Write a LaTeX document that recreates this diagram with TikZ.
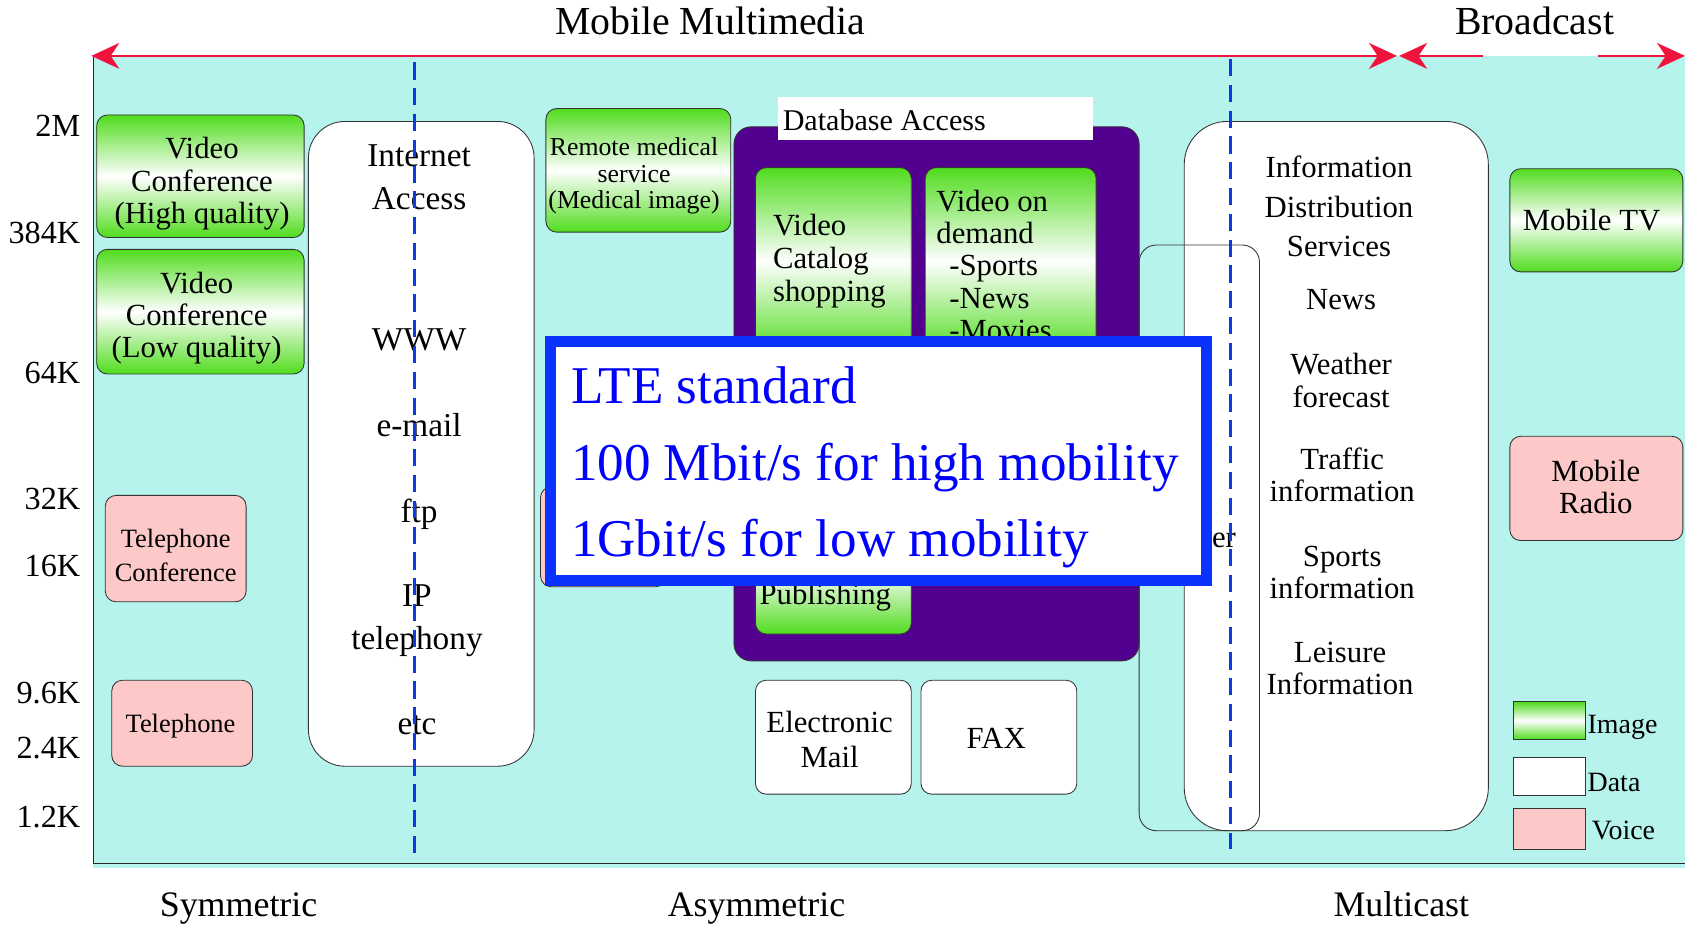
\documentclass[tikz,border=0pt]{standalone}
\usepackage{fontspec}
\setmainfont{Liberation Serif}
\usetikzlibrary{shapes,arrows,arrows.meta,positioning,calc}
\definecolor{bgcyan}{RGB}{182,243,237}
\definecolor{imggreen}{RGB}{80,220,30}
\definecolor{voicepink}{RGB}{252,200,200}
\definecolor{dbpurple}{RGB}{82,0,144}
\definecolor{ltblue}{RGB}{10,50,255}
\definecolor{dashblue}{RGB}{10,60,230}
\definecolor{arrowred}{RGB}{240,20,60}
\tikzset{
imgblock/.style = {draw=black!80, thin, rounded corners=5pt, top color=imggreen, bottom color=imggreen, middle color=white},
datablock/.style = {draw=black!80, thin, fill=white, rounded corners=5pt},
voiceblock/.style = {draw=black!80, thin, fill=voicepink, rounded corners=5pt},
swatch/.style = {draw=black!80, thin, minimum width=33.5pt, minimum height=17.5pt},
boxtext/.style = {align=center, inner sep=0pt, font=\fontsize{14.3}{15}\selectfont},
smalltext/.style = {align=center, inner sep=0pt, font=\fontsize{12.3}{15.5}\selectfont},
nettext/.style = {align=center, inner sep=0pt, font=\fontsize{15.5}{20}\selectfont},
ratelabel/.style = {anchor=east, inner sep=0pt, font=\fontsize{15}{15}\selectfont},
axislabel/.style = {anchor=base, inner sep=0pt, font=\fontsize{16.7}{17}\selectfont},
toplabel/.style = {anchor=base, inner sep=0pt, font=\fontsize{18.5}{19}\selectfont},
redarrow/.style = {draw=arrowred, line width=1.2pt},
dashline/.style = {draw=dashblue, line width=1.5pt, dash pattern=on 8pt off 4pt}
}

\begin{document}
\begin{tikzpicture}[x=0.5pt, y=-0.5pt, >={Stealth[length=13pt,width=12pt,inset=4pt]}]
    \useasboundingbox (0,0) rectangle (1568,864);

    % background
    \fill[bgcyan] (87,52) rectangle (1568,808);
    \draw[black!85, thin] (87,52) -- (87,803) -- (1568,803);

    \node[toplabel] (mm) at (661,32) {Mobile Multimedia};
    \node[toplabel] (bc) at (1428,32) {Broadcast};
    \coordinate (mmL) at (85,52);
    \coordinate (mmR) at (1300,52);
    \coordinate (bcL) at (1302,52);
    \coordinate (bcM) at (1380,52);
    \coordinate (bcN) at (1487,52);
    \coordinate (bcR) at (1568,52);
    \draw[redarrow, <->] (mmL) -- (mmR);
    \draw[redarrow, <-] (bcL) -- (bcM);
    \draw[redarrow, ->] (bcN) -- (bcR);

    \foreach \lbl/\yy [count=\i] in {2M/117, 384K/217, 64K/347, 32K/464, 16K/527, 9.6K/645, 2.4K/696, 1.2K/760}
        \node[ratelabel] (rate\i) at (75,\yy) {\lbl};

    \node[axislabel] (sym) at (222,853) {Symmetric};
    \node[axislabel] (asym) at (704,853) {Asymmetric};
    \node[axislabel] (mcast) at (1304,853) {Multicast};

    % symmetric
    \node[imgblock, minimum width=96.5pt, minimum height=57pt] (vchigh) at (186.5,164) {};
    \node[boxtext] at (188,171) {Video\\Conference\\(High quality)};
    \node[imgblock, minimum width=96.5pt, minimum height=58pt] (vclow) at (186.5,290) {};
    \node[boxtext] at (183,296) {Video\\Conference\\(Low quality)};
    \node[voiceblock, minimum width=65.5pt, minimum height=49.5pt] (telconf) at (163.5,510.5) {};
    \node[smalltext] at (163.5,517) {Telephone\\Conference};
    \node[voiceblock, minimum width=65.5pt, minimum height=40pt] (tel) at (169.5,673) {};
    \node[smalltext] at (168,676) {Telephone};

    \node[datablock, rounded corners=17pt, minimum width=105pt, minimum height=300pt] (net) at (392,413) {};
    \node[nettext] (netAccess) at (390,165) {Internet\\Access};
    \node[nettext] (netWWW) at (390,316) {WWW};
    \node[nettext] (netMail) at (390,396) {e-mail};
    \node[nettext] (netFtp) at (390,479) {ftp};
    \node[nettext] (netIP) at (388,578) {IP\\telephony};
    \node[nettext] (netEtc) at (388,675) {etc};

    % asymmetric
    \node[imgblock, minimum width=86pt, minimum height=57.5pt] (medical) at (594,158.5) {};
    \node[smalltext, font=\fontsize{12}{12.3}\selectfont] at (590,164) {Remote medical\\service\\(Medical image)};

    \node[fill=dbpurple, draw=black!80, thin, rounded corners=8pt, minimum width=188.5pt, minimum height=248.5pt] (db) at (871.5,366.5) {};
    \node[fill=white, minimum width=146.5pt, minimum height=20pt] (dbLabel) at (870.5,110) {};
    \node[boxtext, anchor=west, font=\fontsize{14}{14}\selectfont] at (728,112) {Database Access};
    \node[imgblock, minimum width=72.5pt, minimum height=87pt] (catalog) at (775.5,243) {};
    \node[boxtext, align=left, anchor=west, font=\fontsize{14.3}{15.5}\selectfont] at (719,243) {Video\\Catalog\\shopping};
    \node[imgblock, minimum width=79.5pt, minimum height=87pt] (vod) at (940.5,243) {};
    \node[boxtext, align=left, anchor=west] at (871,247) {Video on\\demand\\\hspace*{6pt}-Sports\\\hspace*{6pt}-News\\\hspace*{6pt}-Movies};
    \node[imgblock, minimum width=72.5pt, minimum height=60pt] (publish) at (775.5,530) {};
    \node[boxtext] at (768,556) {Publishing};
    \node[voiceblock, minimum width=58.5pt, minimum height=46.5pt] (asymvoice) at (561.5,499.5) {};

    \node[datablock, minimum width=72.5pt, minimum height=53pt] (email) at (775.5,686) {};
    \node[boxtext, font=\fontsize{14.3}{16}\selectfont] at (772,688) {Electronic\\Mail};
    \node[datablock, minimum width=72.5pt, minimum height=53pt] (fax) at (929.5,686) {};
    \node[boxtext] at (927,687) {FAX};

    % multicast
    \node[datablock, rounded corners=20pt, minimum width=141.5pt, minimum height=330pt] (info) at (1243.5,443) {};
    \node[boxtext, font=\fontsize{14.3}{18.5}\selectfont] (infoServ) at (1246,192) {Information\\Distribution\\Services};
    \node[boxtext] (infoNews) at (1248,279) {News};
    \node[boxtext] (infoWeather) at (1248,354) {Weather\\forecast};
    \node[boxtext] (infoTraffic) at (1249,442) {Traffic\\information};
    \node[boxtext] (infoSports) at (1249,533) {Sports\\information};
    \node[boxtext] (infoLeisure) at (1247,622) {Leisure\\Information};
    \node[draw=black!80, thin, rounded corners=8pt, minimum width=56pt, minimum height=272.5pt] (mcbox) at (1116,500.5) {};
    \node[boxtext] (mcText) at (1139,503) {er};

    \node[draw=ltblue, line width=5pt, fill=white, minimum width=305.5pt, minimum height=111pt] (lte) at (817.5,429) {};
    \node[align=left, anchor=west, inner sep=0pt, text=blue, font=\fontsize{24.7}{35.5}\selectfont] (lteText) at (531,435) {LTE standard\\100 Mbit/s for high mobility\\1Gbit/s for low mobility};

    % broadcast
    \node[imgblock, minimum width=80.5pt, minimum height=48pt] (mtv) at (1485.5,205) {};
    \node[boxtext] at (1481,205) {Mobile TV};
    \node[voiceblock, minimum width=80.5pt, minimum height=48.5pt] (mradio) at (1485.5,454.5) {};
    \node[boxtext] at (1485,453.5) {Mobile\\Radio};

    \coordinate (symTop) at (386,58);
    \coordinate (symBot) at (386,795);
    \coordinate (mcTop) at (1145,55);
    \coordinate (mcBot) at (1145,790);
    \draw[dashline] (symTop) -- (symBot);
    \draw[dashline] (mcTop) -- (mcBot);

    % legend
    \node[swatch, top color=imggreen, bottom color=imggreen, middle color=white] (keyImg) at (1441.5,670.5) {};
    \node[swatch, fill=white] (keyData) at (1441.5,722.5) {};
    \node[swatch, fill=voicepink, minimum height=19pt] (keyVoice) at (1441.5,771) {};
    \node[boxtext, anchor=west, font=\fontsize{13}{13}\selectfont] at (1477,677) {Image};
    \node[boxtext, anchor=west, font=\fontsize{13}{13}\selectfont] at (1477,728) {Data};
    \node[boxtext, anchor=west, font=\fontsize{13}{13}\selectfont] at (1481,773) {Voice};
\end{tikzpicture}
\end{document}
